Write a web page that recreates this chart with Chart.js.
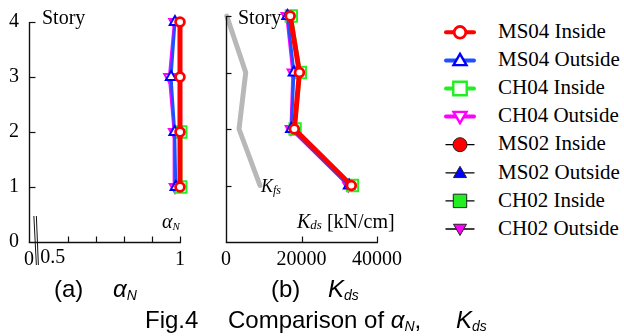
<!DOCTYPE html>
<html><head><meta charset="utf-8">
<script src="https://cdn.jsdelivr.net/npm/chart.js@4.4.1/dist/chart.umd.min.js"></script>
<style>
html,body{margin:0;padding:0;background:#fff;}
#wrap{position:relative;width:624px;height:336px;overflow:hidden;background:#fff;}
canvas{position:absolute;}
.t{position:absolute;white-space:nowrap;line-height:1;color:#000;}
.serif{font-family:"Liberation Serif","Times New Roman",serif;}
.sans{font-family:"Liberation Sans",Arial,sans-serif;}
.i{font-style:italic;}
</style></head>
<body><div id="wrap">
<canvas id="ca" width="200" height="280" style="left:0;top:0;width:200px;height:280px"></canvas>
<canvas id="cb" width="208" height="280" style="left:200px;top:0;width:208px;height:280px"></canvas>
<canvas id="lg" width="50" height="250" style="left:435px;top:0;width:50px;height:250px"></canvas>
<span class="t serif" style="left:42px;top:7px;font-size:20px">Story</span>
<span class="t serif" style="left:238px;top:7px;font-size:20px">Story</span>
<span class="t serif i" style="left:162px;top:211px;font-size:20px">α<span style="font-size:11px;position:relative;top:2px">N</span></span>
<span class="t serif" style="left:297px;top:211px;font-size:20px"><span class="i">K</span><span class="i" style="font-size:13px;position:relative;top:1px">ds</span> [kN/cm]</span>
<span class="t serif i" style="left:261px;top:177px;font-size:18px">K<span style="font-size:12px;position:relative;top:2px">fs</span></span>
<span class="t sans" style="left:54px;top:277px;font-size:24px">(a)</span>
<span class="t sans i" style="left:113px;top:277px;font-size:24px">α<span style="font-size:14px;position:relative;top:3px">N</span></span>
<span class="t sans" style="left:271px;top:277px;font-size:24px">(b)</span>
<span class="t sans i" style="left:328px;top:277px;font-size:24px">K<span style="font-size:14px;position:relative;top:3px">ds</span></span>
<span class="t sans" style="left:145px;top:308px;font-size:24px">Fig.4</span>
<span class="t sans" style="left:228px;top:308px;font-size:24px">Comparison of <span class="i">α</span><span class="i" style="font-size:14px;position:relative;top:3px">N</span>,</span>
<span class="t sans i" style="left:456px;top:308px;font-size:24px">K<span style="font-size:14px;position:relative;top:3px">ds</span></span>
<div id="legtext"></div>
</div>
<script>
// ---- data ----
const stories = [1, 2, 3, 4];
const alphaMS04In  = [1.000, 1.000, 1.000, 1.000];
const alphaMS04Out = [0.985, 0.981, 0.968, 0.982];
const alphaCH04In  = [1.003, 1.003, 1.003, 1.003];
const alphaCH04Out = [0.982, 0.979, 0.962, 0.980];
const kdsMS04In  = [33200, 18100, 19450, 17000];
const kdsMS04Out = [32600, 17300, 18000, 16300];
const kdsCH04In  = [33500, 18300, 19700, 17300];
const kdsCH04Out = [32400, 17200, 17700, 16100];
const kfsValues  = [9000, 3450, 5230, 200];
const seriesNames = ["MS04 Inside","MS04 Outside","CH04 Inside","CH04 Outside","MS02 Inside","MS02 Outside","CH02 Inside","CH02 Outside"];
const storyTicks = [0, 1, 2, 3, 4];
const alphaMin = 0.46;
const alphaTickValues = [alphaMin, 0.6, 0.7, 0.8, 0.9, 1.0];
const alphaTickLabels = ["0", "", "", "", "", "1"];
const alphaBreakLabel = "0.5";
const kdsTickValues = [0, 20000, 40000];
const kdsTickLabels = ["0", "20000", "40000"];

// ---- styles ----
const RED = '#ff0000', BLUE = '#1f4fff', BLUEM = '#0000ff', GREEN = '#22ee22', MAG = '#ff00ff', GRAY = '#b8b8b8';
const serif = '"Liberation Serif","Times New Roman",serif';
const pts = (xs) => xs.map((v, i) => ({x: v, y: stories[i]}));

function seriesSets(a, b, c, d) {
  return [
    {data: pts(a), borderColor: RED, borderWidth: 5, pointStyle: 'circle', pointRadius: 4.4, pointBorderWidth: 2.8, pointBackgroundColor: '#fff', pointBorderColor: RED},
    {data: pts(b), borderColor: BLUE, borderWidth: 3, pointStyle: 'triangle', pointRadius: 6, pointBorderWidth: 2, pointBackgroundColor: '#fff', pointBorderColor: BLUEM},
    {data: pts(c), borderColor: GREEN, borderWidth: 3, pointStyle: 'rect', pointRadius: 8, pointBorderWidth: 2, pointBackgroundColor: '#fff', pointBorderColor: GREEN},
    {data: pts(d), borderColor: MAG, borderWidth: 3, pointStyle: 'triangle', pointRotation: 180, pointRadius: 6, pointBorderWidth: 2, pointBackgroundColor: '#fff', pointBorderColor: MAG}
  ].map(s => Object.assign({showLine: true, clip: false, tension: 0, borderJoinStyle: 'round', borderCapStyle: 'round'}, s));
}

function seg(ctx, x1, y1, x2, y2) { ctx.beginPath(); ctx.moveTo(x1, y1); ctx.lineTo(x2, y2); ctx.stroke(); }

const decor = {
  id: 'decor',
  afterDraw(chart, args, o) {
    const ctx = chart.ctx, xs = chart.scales.x, ys = chart.scales.y, ca = chart.chartArea;
    ctx.save();
    ctx.strokeStyle = '#111111';
    ctx.lineWidth = 1.4;
    const L = Math.round(ca.left) + 0.5, B = Math.round(ca.bottom) + 0.5;
    const T = Math.round(ys.getPixelForValue(4));
    const R = Math.round(xs.getPixelForValue(xs.max)) + 1;
    seg(ctx, L, T, L, B);
    seg(ctx, L - 0.7, B, R, B);
    ctx.lineWidth = 1.2;
    (o.xTicks || []).forEach(v => {
      const p = Math.round(xs.getPixelForValue(v)) + 0.5;
      seg(ctx, p, B, p, B - 6);
    });
    (o.yTicks || []).forEach(v => {
      const p = Math.round(ys.getPixelForValue(v)) + 0.5;
      seg(ctx, L, p, L + (o.yLen || 6), p);
    });
    if (o.breakAt !== undefined) {
      const bx = xs.getPixelForValue(o.breakAt);
      ctx.lineWidth = 1;
      seg(ctx, bx - 1, ca.bottom - 26, bx + 1.5, ca.bottom + 23);
      seg(ctx, bx + 1.5, ca.bottom - 26, bx + 3.5, ca.bottom + 23);
    }
    if (o.extraLabel) {
      ctx.fillStyle = '#000'; ctx.font = '20px ' + serif; ctx.textAlign = 'left'; ctx.textBaseline = 'top';
      const lx = xs.getPixelForValue(o.extraLabel.value);
      ctx.fillText(o.extraLabel.text, lx, ca.bottom + 6);
    }
    ctx.restore();
  }
};

function baseOptions(xmin, xmax, tickVals, tickLabels, yWidth, showY, padRight, decorOpts) {
  return {
    responsive: false, animation: false, devicePixelRatio: 1,
    layout: {padding: {top: 16, right: padRight, bottom: 0, left: 0}},
    plugins: {legend: {display: false}, tooltip: {enabled: false}, decor: decorOpts},
    scales: {
      x: {type: 'linear', min: xmin, max: xmax,
        grid: {display: true, drawOnChartArea: false, drawTicks: false, color: '#000'}, border: {display: true, color: '#000', width: 1},
        afterBuildTicks: s => { s.ticks = tickVals.map(v => ({value: v})); },
        afterFit: s => { s.height = 38; },
        ticks: {autoSkip: false, maxRotation: 0, padding: 6, color: '#000', font: {family: serif, size: 20},
          callback: (v, i) => tickLabels[i]}
      },
      y: {type: 'linear', min: 0, max: 4,
        grid: {display: true, drawOnChartArea: false, drawTicks: false, color: '#000'}, border: {display: true, color: '#000', width: 1},
        afterBuildTicks: s => { s.ticks = storyTicks.map(v => ({value: v})); },
        afterFit: s => { s.width = yWidth; },
        ticks: {display: showY, padding: 10, color: '#000', font: {family: serif, size: 20}, callback: v => String(v)}
      }
    }
  };
}

new Chart(document.getElementById('ca'), {
  type: 'scatter',
  data: {datasets: seriesSets(alphaMS04In, alphaMS04Out, alphaCH04In, alphaCH04Out)},
  options: baseOptions(alphaMin, 1.0, alphaTickValues, alphaTickLabels, 29, true, 20,
    {xTicks: [0.6, 0.7, 0.8, 0.9, 1.0], yTicks: [1, 2, 3, 4], breakAt: 0.481, extraLabel: {value: 0.5, text: alphaBreakLabel}}),
  plugins: [decor]
});

const dsB = seriesSets(kdsMS04In, kdsMS04Out, kdsCH04In, kdsCH04Out);
dsB.push({data: pts(kfsValues), showLine: true, clip: false, borderColor: GRAY, borderWidth: 5, pointRadius: 0, borderCapStyle: 'round', borderJoinStyle: 'round'});
new Chart(document.getElementById('cb'), {
  type: 'scatter',
  data: {datasets: dsB},
  options: baseOptions(0, 40000, kdsTickValues, kdsTickLabels, 26, false, 31,
    {xTicks: [20000, 40000], yTicks: [1, 2, 3, 4], yLen: 5}),
  plugins: [decor]
});

// ---- legend ----
const legendStyles = [
  {line: RED, lw: 4, shape: 'circle', fill: '#fff', stroke: RED, r: 5.8, bw: 2.8},
  {line: BLUE, lw: 4, shape: 'triangle', fill: '#fff', stroke: BLUEM, r: 7.5, bw: 2.4},
  {line: GREEN, lw: 4, shape: 'rect', fill: '#fff', stroke: GREEN, r: 9.5, bw: 2.4},
  {line: MAG, lw: 4, shape: 'triangle', rot: Math.PI, fill: '#fff', stroke: MAG, r: 7.5, bw: 2.4},
  {line: '#000', lw: 1.3, shape: 'circle', fill: RED, stroke: '#222', r: 7, bw: 1},
  {line: '#000', lw: 1.3, shape: 'triangle', fill: BLUEM, stroke: '#222', r: 7.5, bw: 1},
  {line: '#000', lw: 1.3, shape: 'rect', fill: GREEN, stroke: '#222', r: 9.5, bw: 1},
  {line: '#000', lw: 1.3, shape: 'triangle', rot: Math.PI, fill: MAG, stroke: '#222', r: 7.5, bw: 1}
];
const lg = document.getElementById('lg').getContext('2d');
const lt = document.getElementById('legtext');
const LX = 435;
seriesNames.forEach((name, i) => {
  const st = legendStyles[i];
  const cy = 32.3 + 28.1 * i;
  const cx = 460 - LX;
  lg.save();
  lg.strokeStyle = st.line; lg.lineWidth = st.lw; lg.lineCap = 'round';
  lg.beginPath(); lg.moveTo(446 - LX, cy); lg.lineTo(474 - LX, cy); lg.stroke();
  lg.fillStyle = st.fill; lg.strokeStyle = st.stroke; lg.lineWidth = st.bw; lg.lineCap = 'butt'; lg.lineJoin = 'miter';
  lg.beginPath();
  if (st.shape === 'circle') {
    lg.arc(cx, cy, st.r, 0, Math.PI * 2);
  } else if (st.shape === 'rect') {
    const h = st.r / Math.SQRT2;
    lg.rect(cx - h, cy - h, 2 * h, 2 * h);
  } else {
    let a = st.rot || 0;
    const yy = st.rot ? cy - 1 : cy + 1;
    for (let k = 0; k < 3; k++) {
      const px = cx + Math.sin(a) * st.r, py = yy - Math.cos(a) * st.r;
      if (k === 0) lg.moveTo(px, py); else lg.lineTo(px, py);
      a += Math.PI * 2 / 3;
    }
    lg.closePath();
  }
  lg.fill(); lg.stroke();
  lg.restore();
  const sp = document.createElement('span');
  sp.className = 't serif';
  sp.style.left = '498px';
  sp.style.top = (cy - 11.3).toFixed(1) + 'px';
  sp.style.fontSize = '21px';
  sp.textContent = name;
  lt.appendChild(sp);
});
</script>
</body></html>
